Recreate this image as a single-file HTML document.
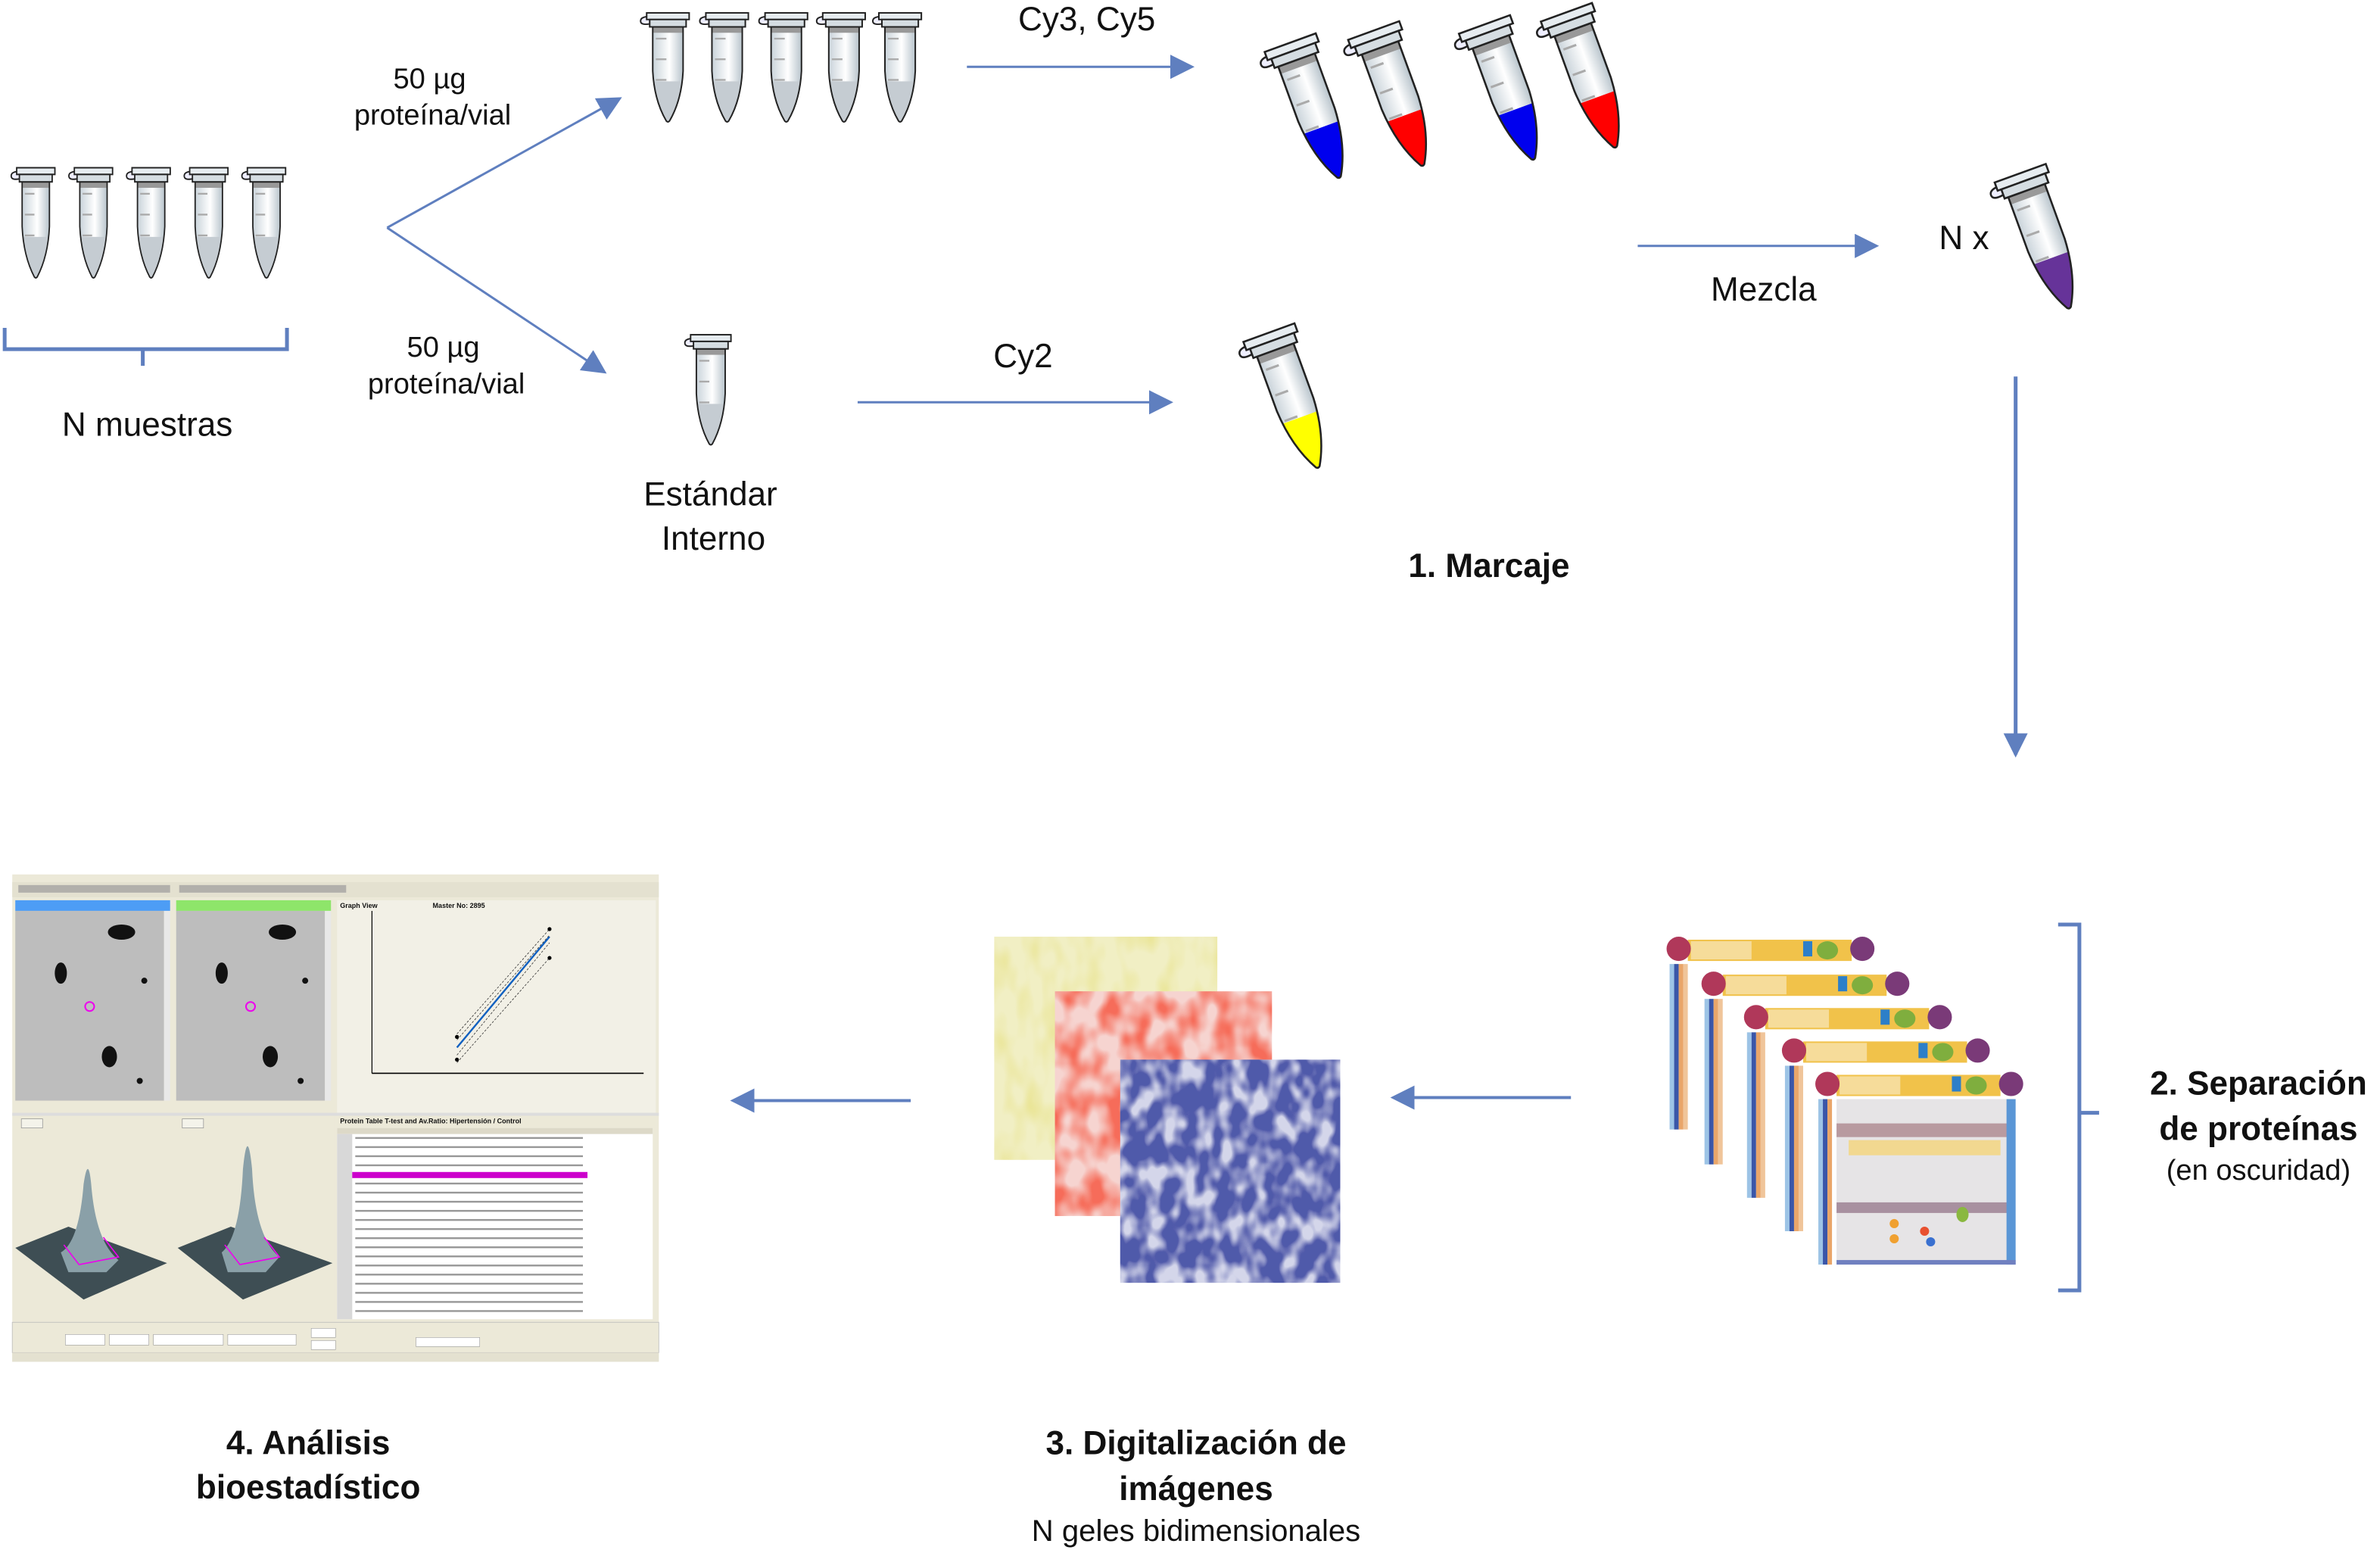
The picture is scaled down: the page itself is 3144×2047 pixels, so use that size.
<!DOCTYPE html>
<html><head><meta charset="utf-8"><style>
html,body{margin:0;padding:0;background:#fff;}
svg{display:block;}
text{font-family:"Liberation Sans",Arial,sans-serif;fill:#111;}
</style></head><body>
<svg width="3144" height="2047" viewBox="0 0 1568 1021" xmlns="http://www.w3.org/2000/svg">
<defs>
<linearGradient id="tg" x1="0" x2="1" y1="0" y2="0">
<stop offset="0" stop-color="#c9d3da"/><stop offset="0.55" stop-color="#ffffff"/><stop offset="1" stop-color="#b8c4cc"/>
</linearGradient>
<clipPath id="bc"><path d="M5,10 L25,10 L25,40 Q24,60 16,74 Q15,75 14,74 Q6,60 5,40 Z"/></clipPath>
<g id="tube">
<path d="M3,3 Q-3,3 -3,6 Q-3,9 3,8" fill="#eef" stroke="#222" stroke-width="1"/>
<path d="M5,10 L25,10 L25,40 Q24,60 16,74 Q15,75 14,74 Q6,60 5,40 Z" fill="url(#tg)"/>
<g clip-path="url(#bc)"><rect x="0" y="47" width="30" height="30" fill="currentColor"/><rect x="5" y="10" width="20" height="4" fill="#999"/></g>
<line x1="7" y1="18" x2="14" y2="18" stroke="#aaa" stroke-width="1.2"/>
<line x1="7" y1="32" x2="14" y2="32" stroke="#aaa" stroke-width="1.2"/>
<line x1="7" y1="46" x2="14" y2="46" stroke="#aaa" stroke-width="1.2"/>
<path d="M5,10 L25,10 L25,40 Q24,60 16,74 Q15,75 14,74 Q6,60 5,40 Z" fill="none" stroke="#222" stroke-width="1"/>
<rect x="1" y="0.5" width="28" height="4.5" fill="#e6ecf0" stroke="#222" stroke-width="1"/>
<rect x="3" y="5" width="24" height="5" fill="#d5dde2" stroke="#222" stroke-width="1"/>
</g>
<marker id="ah2" markerWidth="16" markerHeight="16" refX="14" refY="8" orient="auto" markerUnits="userSpaceOnUse" viewBox="0 0 16 16">
<path d="M0,0 L16,8 L0,16 Z" fill="#5f7fbf"/></marker>
<filter id="ny" x="0" y="0" width="1" height="1"><feTurbulence type="fractalNoise" baseFrequency="0.08 0.04" numOctaves="2" seed="3"/><feColorMatrix type="matrix" values="0 0 0 0 0.82  0 0 0 0 0.78  0 0 0 0 0.3  2.2 0 0 0 -0.9"/><feComposite in2="SourceGraphic" operator="in"/></filter>
<filter id="nr" x="0" y="0" width="1" height="1"><feTurbulence type="fractalNoise" baseFrequency="0.07 0.05" numOctaves="2" seed="7"/><feColorMatrix type="matrix" values="0 0 0 0 0.92  0 0 0 0 0.15  0 0 0 0 0.1  2.8 0 0 0 -1.0"/><feComposite in2="SourceGraphic" operator="in"/></filter>
<filter id="nb" x="0" y="0" width="1" height="1"><feTurbulence type="fractalNoise" baseFrequency="0.09 0.06" numOctaves="2" seed="11"/><feColorMatrix type="matrix" values="0 0 0 0 0.08  0 0 0 0 0.1  0 0 0 0 0.4  3.6 0 0 0 -1.1"/><feComposite in2="SourceGraphic" operator="in"/></filter>
<g id="frame">
<rect x="0" y="0" width="135" height="127" fill="#fff"/>
<rect x="12" y="2" width="108" height="14" fill="#f1c24a"/>
<rect x="14" y="3" width="40" height="12" fill="#f6dc9a"/>
<rect x="88" y="3" width="6" height="10" fill="#2d7fc8"/>
<ellipse cx="104" cy="9" rx="7" ry="6" fill="#7fae3e"/>
<circle cx="6" cy="8" r="8" fill="#b0385a"/>
<circle cx="127" cy="8" r="8" fill="#7a3a78"/>
<rect x="0" y="18" width="3" height="109" fill="#9dc4e6"/>
<rect x="3" y="18" width="3" height="109" fill="#3a56a8"/>
<rect x="6" y="18" width="3" height="109" fill="#e9a66a"/>
<rect x="9" y="18" width="3" height="109" fill="#f0c59a"/>
</g>
</defs>

<g color="#c5ccd2">
<use href="#tube" transform="translate(10,110) scale(0.9,0.98)"/>
<use href="#tube" transform="translate(48,110) scale(0.9,0.98)"/>
<use href="#tube" transform="translate(86,110) scale(0.9,0.98)"/>
<use href="#tube" transform="translate(124,110) scale(0.9,0.98)"/>
<use href="#tube" transform="translate(162,110) scale(0.9,0.98)"/>
</g>
<g color="#c5ccd2">
<use href="#tube" transform="translate(425,8) scale(1,0.97)"/>
<use href="#tube" transform="translate(464,8) scale(1,0.97)"/>
<use href="#tube" transform="translate(503,8) scale(1,0.97)"/>
<use href="#tube" transform="translate(541,8) scale(1,0.97)"/>
<use href="#tube" transform="translate(578,8) scale(1,0.97)"/>
<use href="#tube" transform="translate(454,220) scale(0.95,0.98)"/>
</g>
<use href="#tube" color="#0000ee" transform="translate(866,72) rotate(-20) scale(1.28) translate(-15,-37)"/>
<use href="#tube" color="#ff0000" transform="translate(921,64) rotate(-20) scale(1.28) translate(-15,-37)"/>
<use href="#tube" color="#0000ee" transform="translate(994,60) rotate(-20) scale(1.28) translate(-15,-37)"/>
<use href="#tube" color="#ff0000" transform="translate(1048,52) rotate(-20) scale(1.28) translate(-15,-37)"/>
<use href="#tube" color="#ffff00" transform="translate(852,263) rotate(-20) scale(1.28) translate(-15,-37)"/>
<use href="#tube" color="#663399" transform="translate(1347,158) rotate(-20) scale(1.28) translate(-15,-37)"/>

<path d="M3,216 L3,230 L189,230 L189,216 M94,230 L94,241" fill="none" stroke="#5f7fbf" stroke-width="2.5"/>
<path d="M1356,609 L1370,609 L1370,850 L1356,850 M1370,733 L1383,733" fill="none" stroke="#5f7fbf" stroke-width="2.5"/>

<g stroke="#5f7fbf" stroke-width="1.5" fill="none">
<line x1="255" y1="150" x2="408" y2="65" marker-end="url(#ah2)"/>
<line x1="255" y1="150" x2="398" y2="245" marker-end="url(#ah2)"/>
<line x1="637" y1="44" x2="785" y2="44" marker-end="url(#ah2)"/>
<line x1="565" y1="265" x2="771" y2="265" marker-end="url(#ah2)"/>
<line x1="1079" y1="162" x2="1236" y2="162" marker-end="url(#ah2)"/>
<line x1="1328" y1="248" x2="1328" y2="497" stroke-width="2.5" marker-end="url(#ah2)"/>
<line x1="1035" y1="723" x2="918" y2="723" stroke-width="2" marker-end="url(#ah2)"/>
<line x1="600" y1="725" x2="483" y2="725" stroke-width="2" marker-end="url(#ah2)"/>
</g>

<g font-size="19" text-anchor="middle">
<text x="283" y="58">50 µg</text>
<text x="285" y="82">proteína/vial</text>
<text x="292" y="235">50 µg</text>
<text x="294" y="259">proteína/vial</text>
</g>
<g font-size="22" text-anchor="middle">
<text x="97" y="287">N muestras</text>
<text x="468" y="333">Estándar</text>
<text x="470" y="362">Interno</text>
<text x="716" y="20">Cy3, Cy5</text>
<text x="674" y="242">Cy2</text>
<text x="1162" y="198">Mezcla</text>
<text x="1294" y="164">N x</text>
</g>
<g font-size="22" font-weight="bold" text-anchor="middle">
<text x="981" y="380">1. Marcaje</text>
<text x="1488" y="721">2. Separación</text>
<text x="1488" y="751">de proteínas</text>
<text x="203" y="958">4. Análisis</text>
<text x="203" y="987">bioestadístico</text>
<text x="788" y="958">3. Digitalización de</text>
<text x="788" y="988">imágenes</text>
</g>
<text x="1488" y="777" font-size="19" text-anchor="middle">(en oscuridad)</text>
<text x="788" y="1015" font-size="20" text-anchor="middle">N geles bidimensionales</text>

<use href="#frame" transform="translate(1100,617)"/>
<use href="#frame" transform="translate(1123,640)"/>
<use href="#frame" transform="translate(1151,662)"/>
<use href="#frame" transform="translate(1176,684)"/>
<g transform="translate(1198,706)">
<rect x="0" y="0" width="135" height="127" fill="#fff"/>
<rect x="12" y="2" width="108" height="14" fill="#f1c24a"/>
<rect x="14" y="3" width="40" height="12" fill="#f6dc9a"/>
<rect x="88" y="3" width="6" height="10" fill="#2d7fc8"/>
<ellipse cx="104" cy="9" rx="7" ry="6" fill="#7fae3e"/>
<circle cx="6" cy="8" r="8" fill="#b0385a"/>
<circle cx="127" cy="8" r="8" fill="#7a3a78"/>
<rect x="0" y="18" width="3" height="109" fill="#9dc4e6"/>
<rect x="3" y="18" width="3" height="109" fill="#3a56a8"/>
<rect x="6" y="18" width="3" height="109" fill="#e9a66a"/>
<rect x="12" y="18" width="116" height="107" fill="#e6e4e6"/>
<rect x="12" y="34" width="116" height="9" fill="#b89aa0"/>
<rect x="12" y="86" width="116" height="7" fill="#a890a0"/>
<rect x="20" y="45" width="100" height="10" fill="#f2d890"/>
<rect x="124" y="18" width="6" height="109" fill="#5a96d6"/>
<circle cx="50" cy="100" r="3" fill="#f0a030"/><circle cx="50" cy="110" r="3" fill="#f0a030"/>
<circle cx="70" cy="105" r="3" fill="#e85030"/><circle cx="74" cy="112" r="3" fill="#3a70d0"/>
<ellipse cx="95" cy="94" rx="4" ry="5" fill="#8ab840"/>
<rect x="12" y="124" width="118" height="3" fill="#7080c0"/>
</g>

<rect x="655" y="617" width="147" height="147" fill="#f1efc4"/>
<rect x="655" y="617" width="147" height="147" fill="#fff" filter="url(#ny)"/>
<rect x="695" y="653" width="143" height="148" fill="#f6d4d0"/>
<rect x="695" y="653" width="143" height="148" fill="#fff" filter="url(#nr)"/>
<rect x="738" y="698" width="145" height="147" fill="#d4d6ea"/>
<rect x="738" y="698" width="145" height="147" fill="#fff" filter="url(#nb)"/>

<g>
<rect x="8" y="576" width="426" height="321" fill="#ece9d8"/>
<rect x="8" y="581" width="426" height="10" fill="#e4e1d0"/>
<g fill="#556"><rect x="12" y="583" width="100" height="5" opacity="0.35"/><rect x="118" y="583" width="110" height="5" opacity="0.35"/></g>
<rect x="10" y="593" width="102" height="7" fill="#4d9df5"/>
<rect x="116" y="593" width="102" height="7" fill="#8ee56a"/>
<rect x="10" y="600" width="98" height="125" fill="#bdbdbd"/>
<rect x="116" y="600" width="98" height="125" fill="#bdbdbd"/>
<rect x="108" y="600" width="4" height="125" fill="#e8e8e8"/><rect x="214" y="600" width="4" height="125" fill="#e8e8e8"/>
<g fill="#111">
<ellipse cx="80" cy="614" rx="9" ry="5"/><ellipse cx="40" cy="641" rx="4" ry="7"/><circle cx="95" cy="646" r="2"/><ellipse cx="72" cy="696" rx="5" ry="7"/><circle cx="92" cy="712" r="2"/>
<ellipse cx="186" cy="614" rx="9" ry="5"/><ellipse cx="146" cy="641" rx="4" ry="7"/><circle cx="201" cy="646" r="2"/><ellipse cx="178" cy="696" rx="5" ry="7"/><circle cx="198" cy="712" r="2"/>
</g>
<circle cx="59" cy="663" r="3" fill="none" stroke="#e0e" stroke-width="1"/>
<circle cx="165" cy="663" r="3" fill="none" stroke="#e0e" stroke-width="1"/>
<rect x="222" y="593" width="210" height="140" fill="#f2f0e6"/>
<text x="224" y="598" font-size="4.5" font-weight="bold">Graph View</text>
<text x="285" y="598" font-size="4.5" font-weight="bold">Master No: 2895</text>
<line x1="245" y1="600" x2="245" y2="707" stroke="#000" stroke-width="0.6"/>
<line x1="245" y1="707" x2="424" y2="707" stroke="#000" stroke-width="0.8"/>
<line x1="301" y1="690" x2="362" y2="617" stroke="#1060c0" stroke-width="1.2"/>
<g stroke="#333" stroke-width="0.4" stroke-dasharray="1.5,1"><line x1="301" y1="681" x2="362" y2="612"/><line x1="301" y1="685" x2="362" y2="616"/><line x1="301" y1="695" x2="362" y2="621"/><line x1="301" y1="700" x2="362" y2="631"/></g>
<g fill="#000"><circle cx="301" cy="683" r="1.3"/><circle cx="301" cy="698" r="1.3"/><circle cx="362" cy="612" r="1.3"/><circle cx="362" cy="631" r="1.3"/></g>
<rect x="8" y="733" width="426" height="2" fill="#ddd"/>
<rect x="10" y="735" width="104" height="135" fill="#ece9d8"/>
<rect x="116" y="735" width="104" height="135" fill="#ece9d8"/>
<rect x="14" y="737" width="14" height="6" fill="#f4f3ea" stroke="#999" stroke-width="0.4"/>
<rect x="120" y="737" width="14" height="6" fill="#f4f3ea" stroke="#999" stroke-width="0.4"/>
<path d="M10,822 L45,808 L110,832 L55,856 Z" fill="#3e4e54"/>
<path d="M40,825 Q52,818 55,780 Q58,760 60,780 Q63,818 78,830 L70,838 L45,838 Z" fill="#8aa0a8"/>
<path d="M42,820 L52,833 L78,828 L68,815" fill="none" stroke="#e0e" stroke-width="0.8"/>
<path d="M117,822 L152,808 L219,832 L160,856 Z" fill="#3e4e54"/>
<path d="M146,825 Q158,815 160,770 Q163,740 166,770 Q168,815 184,828 L175,838 L150,838 Z" fill="#8aa0a8"/>
<path d="M148,820 L158,833 L184,828 L174,815" fill="none" stroke="#e0e" stroke-width="0.8"/>
<rect x="222" y="735" width="210" height="135" fill="#ece9d8"/>
<text x="224" y="740" font-size="4.5" font-weight="bold">Protein Table    T-test and Av.Ratio: Hipertensión / Control</text>
<rect x="222" y="743" width="208" height="126" fill="#fff"/>
<rect x="222" y="743" width="208" height="4" fill="#ddd9c8"/>
<rect x="222" y="747" width="10" height="122" fill="#d8d8d8"/>
<rect x="232" y="772" width="155" height="4" fill="#cc00cc"/>
<g fill="#444" opacity="0.55">
<rect x="234" y="749" width="150" height="1.2"/><rect x="234" y="755" width="150" height="1.2"/><rect x="234" y="761" width="150" height="1.2"/><rect x="234" y="767" width="150" height="1.2"/><rect x="234" y="779" width="150" height="1.2"/><rect x="234" y="785" width="150" height="1.2"/><rect x="234" y="791" width="150" height="1.2"/><rect x="234" y="797" width="150" height="1.2"/><rect x="234" y="803" width="150" height="1.2"/><rect x="234" y="809" width="150" height="1.2"/><rect x="234" y="815" width="150" height="1.2"/><rect x="234" y="821" width="150" height="1.2"/><rect x="234" y="827" width="150" height="1.2"/><rect x="234" y="833" width="150" height="1.2"/><rect x="234" y="839" width="150" height="1.2"/><rect x="234" y="845" width="150" height="1.2"/><rect x="234" y="851" width="150" height="1.2"/><rect x="234" y="857" width="150" height="1.2"/><rect x="234" y="863" width="150" height="1.2"/>
</g>
<rect x="8" y="871" width="426" height="20" fill="#ece9d8" stroke="#bbb" stroke-width="0.4"/>
<g fill="#fff" stroke="#999" stroke-width="0.3"><rect x="43" y="879" width="26" height="7"/><rect x="72" y="879" width="26" height="7"/><rect x="101" y="879" width="46" height="7"/><rect x="150" y="879" width="45" height="7"/><rect x="205" y="875" width="16" height="6"/><rect x="205" y="883" width="16" height="6"/><rect x="274" y="881" width="42" height="6"/></g>
<rect x="8" y="891" width="426" height="6" fill="#e4e1d0"/>
</g>
</svg>
</body></html>
